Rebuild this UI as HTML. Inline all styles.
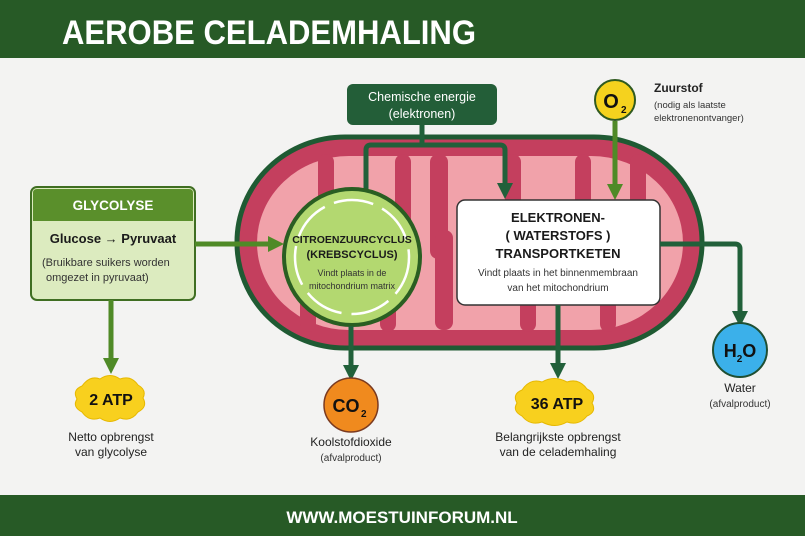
<!DOCTYPE html>
<html><head><meta charset="utf-8"><style>
html,body{margin:0;padding:0;background:#f3f3f2}
svg{display:block}
text{font-family:"Liberation Sans",sans-serif}
</style></head><body>
<svg width="805" height="536" viewBox="0 0 805 536" xmlns="http://www.w3.org/2000/svg">
<defs>
<marker id="ad" markerWidth="3.2" markerHeight="3.2" refX="1.2" refY="1.6" orient="auto" markerUnits="strokeWidth"><path d="M0,0 L3.2,1.6 L0,3.2 Z" fill="#21603a"/></marker>
<marker id="al" markerWidth="3.2" markerHeight="3.2" refX="1.2" refY="1.6" orient="auto" markerUnits="strokeWidth"><path d="M0,0 L3.2,1.6 L0,3.2 Z" fill="#4f8a27"/></marker>
</defs>
<rect x="0" y="0" width="805" height="536" fill="#f3f3f2"/>
<rect x="0" y="0" width="805" height="58" fill="#275a26"/>
<text x="62" y="44" font-size="34" font-weight="bold" fill="#fff" textLength="414" lengthAdjust="spacingAndGlyphs">AEROBE CELADEMHALING</text>
<rect x="0" y="495" width="805" height="41" fill="#275a26"/>
<text x="402" y="523" font-size="17" font-weight="bold" fill="#fff" text-anchor="middle">WWW.MOESTUINFORUM.NL</text>

<!-- mitochondrion -->
<rect x="237" y="137" width="465" height="211" rx="108" ry="105" fill="#c43f5e" stroke="#1f5a33" stroke-width="5"/>
<rect x="257" y="156" width="426" height="174" rx="92" ry="87" fill="#f1a2aa"/>
<g fill="#c43f5e">
<rect x="318" y="154" width="16" height="105" rx="8"/>
<rect x="395" y="154" width="16" height="90" rx="8"/>
<rect x="430" y="154" width="18" height="105" rx="8"/>
<rect x="505" y="154" width="16" height="60" rx="8"/>
<rect x="575" y="154" width="16" height="60" rx="8"/>
<rect x="630" y="154" width="16" height="60" rx="8"/>
<rect x="435" y="230" width="18" height="100" rx="8"/>
<rect x="520" y="280" width="16" height="52" rx="8"/>
<rect x="600" y="280" width="16" height="52" rx="8"/>
<rect x="300" y="270" width="16" height="62" rx="8"/>
<rect x="380" y="270" width="16" height="62" rx="8"/>
</g>

<!-- chem energy -->
<rect x="347" y="84" width="150" height="41" rx="6" fill="#235e38"/>
<text x="422" y="101" font-size="12.5" fill="#fff" text-anchor="middle">Chemische energie</text>
<text x="422" y="118" font-size="12.5" fill="#fff" text-anchor="middle">(elektronen)</text>
<path d="M422,125 V145 M366,190 V150 Q366,145 371,145 H500 Q505,145 505,150 V189" fill="none" stroke="#21603a" stroke-width="5" marker-end="url(#ad)"/>

<!-- O2 -->
<circle cx="615" cy="100" r="20" fill="#f5d21e" stroke="#2f5a20" stroke-width="2"/>
<text x="611" y="108" font-size="20" font-weight="bold" fill="#111" text-anchor="middle">O</text><text x="621" y="113" font-size="10" font-weight="bold" fill="#111">2</text>
<line x1="615" y1="121" x2="615" y2="190" stroke="#4f8a27" stroke-width="5" marker-end="url(#al)"/>
<text x="654" y="92" font-size="12" font-weight="bold" fill="#222">Zuurstof</text>
<text x="654" y="108" font-size="9.5" fill="#333">(nodig als laatste</text>
<text x="654" y="121" font-size="9.5" fill="#333">elektronenontvanger)</text>

<!-- krebs -->
<circle cx="352" cy="257" r="68" fill="#b3d870" stroke="#2a5e22" stroke-width="4"/>
<circle cx="352" cy="257" r="57" fill="none" stroke="#fff" stroke-width="2.5" stroke-dasharray="40 10"/>
<text x="352" y="243" font-size="10.5" font-weight="bold" fill="#1a1a1a" text-anchor="middle">CITROENZUURCYCLUS</text>
<text x="352" y="258" font-size="11" font-weight="bold" fill="#1a1a1a" text-anchor="middle">(KREBSCYCLUS)</text>
<text x="352" y="276" font-size="9" fill="#333" text-anchor="middle">Vindt plaats in de</text>
<text x="352" y="289" font-size="9" fill="#333" text-anchor="middle">mitochondrium matrix</text>

<!-- ETC -->
<rect x="457" y="200" width="203" height="105" rx="8" fill="#fff" stroke="#333" stroke-width="1.5"/>
<text x="558" y="222" font-size="13" font-weight="bold" fill="#1a1a1a" text-anchor="middle">ELEKTRONEN-</text>
<text x="558" y="240" font-size="13" font-weight="bold" fill="#1a1a1a" text-anchor="middle">( WATERSTOFS )</text>
<text x="558" y="258" font-size="13" font-weight="bold" fill="#1a1a1a" text-anchor="middle">TRANSPORTKETEN</text>
<text x="558" y="276" font-size="10" fill="#333" text-anchor="middle">Vindt plaats in het binnenmembraan</text>
<text x="558" y="291" font-size="10" fill="#333" text-anchor="middle">van het mitochondrium</text>
<path d="M660,244 H735 Q740,244 740,249 V317" fill="none" stroke="#21603a" stroke-width="5" marker-end="url(#ad)"/>
<line x1="558" y1="305" x2="558" y2="369" stroke="#21603a" stroke-width="5" marker-end="url(#ad)"/>
<line x1="351" y1="326" x2="351" y2="371" stroke="#21603a" stroke-width="5" marker-end="url(#ad)"/>

<!-- glycolyse -->
<rect x="31" y="187" width="164" height="113" rx="6" fill="#dcebbf" stroke="#3f6e22" stroke-width="2"/>
<path d="M33,221 V193 Q33,189 37,189 H189 Q193,189 193,193 V221 Z" fill="#5a8f2b"/>
<text x="113" y="210" font-size="13.5" font-weight="bold" fill="#fff" text-anchor="middle">GLYCOLYSE</text>
<text x="113" y="243" font-size="13" font-weight="bold" fill="#1a1a1a" text-anchor="middle">Glucose → Pyruvaat</text>
<text x="42" y="266" font-size="11" fill="#333">(Bruikbare suikers worden</text>
<text x="46" y="281" font-size="11" fill="#333">omgezet in pyruvaat)</text>
<line x1="195" y1="244" x2="274" y2="244" stroke="#4f8a27" stroke-width="5" marker-end="url(#al)"/>
<line x1="111" y1="300" x2="111" y2="364" stroke="#4f8a27" stroke-width="5" marker-end="url(#al)"/>

<!-- 2 ATP -->
<path d="M82,386 q8,-11 18,-7 q10,-7 20,0 q11,-4 18,6 q9,5 5,13 q5,9 -5,14 q-7,10 -18,6 q-10,7 -20,0 q-11,4 -18,-6 q-10,-5 -5,-13 q-5,-9 5,-13 Z" fill="#f8d01e" stroke="#e6b800" stroke-width="1"/>
<text x="111" y="405" font-size="16" font-weight="bold" fill="#111" text-anchor="middle">2 ATP</text>
<text x="111" y="441" font-size="12" fill="#222" text-anchor="middle">Netto opbrengst</text>
<text x="111" y="456" font-size="12" fill="#222" text-anchor="middle">van glycolyse</text>

<!-- CO2 -->
<circle cx="351" cy="405" r="27" fill="#f08a1e" stroke="#7a3a20" stroke-width="1.5"/>
<text x="346" y="412" font-size="18" font-weight="bold" fill="#111" text-anchor="middle">CO</text><text x="361" y="417" font-size="10" font-weight="bold" fill="#111">2</text>
<text x="351" y="446" font-size="12" fill="#222" text-anchor="middle">Koolstofdioxide</text>
<text x="351" y="461" font-size="10" fill="#333" text-anchor="middle">(afvalproduct)</text>

<!-- 36 ATP -->
<path d="M522,390 q8,-12 20,-8 q12,-7 25,0 q12,-4 20,7 q10,5 5,14 q5,9 -5,13 q-8,10 -20,6 q-12,7 -25,0 q-12,4 -20,-6 q-10,-5 -5,-13 q-5,-9 5,-13 Z" fill="#f8d01e" stroke="#e6b800" stroke-width="1"/>
<text x="557" y="409" font-size="16" font-weight="bold" fill="#111" text-anchor="middle">36 ATP</text>
<text x="558" y="441" font-size="12" fill="#222" text-anchor="middle">Belangrijkste opbrengst</text>
<text x="558" y="456" font-size="12" fill="#222" text-anchor="middle">van de celademhaling</text>

<!-- H2O -->
<circle cx="740" cy="350" r="27" fill="#3bb0ea" stroke="#1f4f33" stroke-width="2"/>
<text x="740" y="357" font-size="18" font-weight="bold" fill="#111" text-anchor="middle">H<tspan font-size="10" dy="5">2</tspan><tspan dy="-5">O</tspan></text>
<text x="740" y="392" font-size="12" fill="#222" text-anchor="middle">Water</text>
<text x="740" y="407" font-size="10" fill="#333" text-anchor="middle">(afvalproduct)</text>
</svg>
</body></html>
